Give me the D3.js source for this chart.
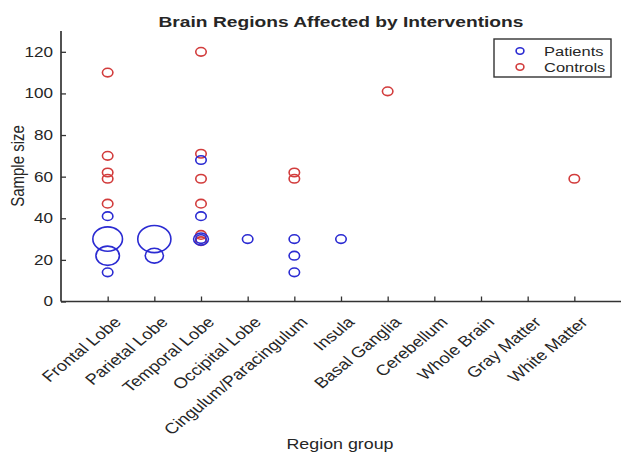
<!DOCTYPE html>
<html>
<head>
<meta charset="utf-8">
<script src="https://cdn.jsdelivr.net/npm/d3@7"></script>
<style>
  html, body { margin: 0; padding: 0; background: #fff; }
  text { font-family: "Liberation Sans", Arial, Helvetica, sans-serif; fill: #262626; }
</style>
</head>
<body>
<svg id="chart" width="629" height="458"></svg>
<script>
// Region groups along the x axis
const categories = ["Frontal Lobe", "Parietal Lobe", "Temporal Lobe", "Occipital Lobe",
  "Cingulum/Paracingulum", "Insula", "Basal Ganglia", "Cerebellum", "Whole Brain",
  "Gray Matter", "White Matter"];

// Patient groups: region, sample size, marker weight (number of studies)
const patientRegion = ["Frontal Lobe", "Frontal Lobe", "Frontal Lobe", "Frontal Lobe",
  "Parietal Lobe", "Parietal Lobe",
  "Temporal Lobe", "Temporal Lobe", "Temporal Lobe", "Temporal Lobe",
  "Occipital Lobe",
  "Cingulum/Paracingulum", "Cingulum/Paracingulum", "Cingulum/Paracingulum",
  "Insula"];
const patientSize = [41, 30, 22, 14, 30, 22, 68, 41, 30, 30, 30, 30, 22, 14, 30];
const patientWeight = [1, 8, 5, 1, 10, 3, 1, 1, 2, 1, 1, 1, 1, 1, 1];

// Control groups: region, sample size
const controlRegion = ["Frontal Lobe", "Frontal Lobe", "Frontal Lobe", "Frontal Lobe", "Frontal Lobe",
  "Temporal Lobe", "Temporal Lobe", "Temporal Lobe", "Temporal Lobe", "Temporal Lobe", "Temporal Lobe",
  "Cingulum/Paracingulum", "Cingulum/Paracingulum",
  "Basal Ganglia", "White Matter"];
const controlSize = [110, 70, 62, 59, 47, 120, 71, 59, 47, 32, 29, 62, 59, 101, 59];
const controlWeight = [1, 1, 1, 1, 1, 1, 1, 1, 1, 1, 1, 1, 1, 1, 1];

const yTicks = [0, 20, 40, 60, 80, 100, 120];
const seriesNames = ["Patients", "Controls"];
const seriesColors = ["#2b2bd2", "#d23c3c"];

const svg = d3.select("#chart");
const axisColor = "#333333";
// The figure is drawn slightly wide: text and markers share this horizontal stretch
const stretch = 1.22;

// Position scales: categories sit at 1..N on a [0, N+1] axis
const x = d3.scaleLinear().domain([0, categories.length + 1]).range([61, 621]);
const y = d3.scaleLinear().domain([0, 130]).range([301.5, 31]);
const catPos = name => x(categories.indexOf(name) + 1);

// Marker radius grows with the square root of the weight
const r = d3.scaleSqrt().domain([0, 1]).range([0, 4.3]);

// Axes
const xAxis = d3.axisBottom(x)
  .tickValues(d3.range(1, categories.length + 1))
  .tickSize(-5)
  .tickFormat(() => "");
const gx = svg.append("g").attr("transform", `translate(0,${y(0)})`).call(xAxis);
gx.select(".domain").attr("d", `M${x(0)},0H${x(categories.length + 1)}`);

const yAxis = d3.axisLeft(y).tickValues(yTicks).tickSize(-5);
const gy = svg.append("g").attr("transform", `translate(${x(0)},0)`).call(yAxis);
gy.select(".domain").attr("d", `M0,${y(130)}V${y(0)}`);

[gx, gy].forEach(g => {
  g.select(".domain").attr("stroke", axisColor).attr("stroke-width", 1.7);
  g.selectAll(".tick line").attr("stroke", axisColor).attr("stroke-width", 1.3);
});
gy.selectAll(".tick text")
  .attr("font-size", 14)
  .attr("fill", "#262626")
  .attr("x", -8 / stretch)
  .attr("transform", `scale(${stretch},1)`);

// Rotated category labels
svg.append("g").selectAll("text")
  .data(categories)
  .join("text")
  .attr("transform", d => `translate(${catPos(d) + 10},${y(0) + 18}) scale(${stretch},1) rotate(-45)`)
  .attr("text-anchor", "end")
  .attr("dy", "0.35em")
  .attr("font-size", 15)
  .text(d => d);

// Scatter markers (open ellipses)
function drawSeries(regions, sizes, weights, color) {
  const pts = regions.map((reg, i) => ({ reg, v: sizes[i], w: weights[i] }));
  svg.append("g").selectAll("ellipse")
    .data(pts)
    .join("ellipse")
    .attr("cx", d => catPos(d.reg))
    .attr("cy", d => y(d.v))
    .attr("rx", d => r(d.w) * stretch)
    .attr("ry", d => r(d.w))
    .attr("fill", "none")
    .attr("stroke", color)
    .attr("stroke-width", 1.6);
}
drawSeries(controlRegion, controlSize, controlWeight, seriesColors[1]);
drawSeries(patientRegion, patientSize, patientWeight, seriesColors[0]);

// Title and axis labels
svg.append("text")
  .attr("x", 341).attr("y", 27)
  .attr("text-anchor", "middle")
  .attr("font-size", 15.5).attr("font-weight", "bold")
  .attr("textLength", 365).attr("lengthAdjust", "spacingAndGlyphs")
  .text("Brain Regions Affected by Interventions");

svg.append("text")
  .attr("x", 340).attr("y", 449)
  .attr("text-anchor", "middle")
  .attr("font-size", 15)
  .attr("textLength", 107).attr("lengthAdjust", "spacingAndGlyphs")
  .text("Region group");

svg.append("text")
  .attr("transform", `translate(24,166) scale(${stretch},1) rotate(-90)`)
  .attr("text-anchor", "middle")
  .attr("font-size", 15)
  .text("Sample size");

// Legend
const legend = svg.append("g");
legend.append("rect")
  .attr("x", 494).attr("y", 39).attr("width", 117).attr("height", 38)
  .attr("fill", "#fff").attr("stroke", axisColor).attr("stroke-width", 1.4);
seriesNames.forEach((name, i) => {
  const ly = 51 + i * 16;
  legend.append("ellipse")
    .attr("cx", 520).attr("cy", ly)
    .attr("rx", 3.2 * stretch).attr("ry", 3.2)
    .attr("fill", "none").attr("stroke", seriesColors[i]).attr("stroke-width", 1.6);
  legend.append("text")
    .attr("transform", `translate(544,${ly}) scale(${stretch},1)`)
    .attr("dy", "0.35em")
    .attr("font-size", 13.5)
    .text(name);
});
</script>
</body>
</html>
